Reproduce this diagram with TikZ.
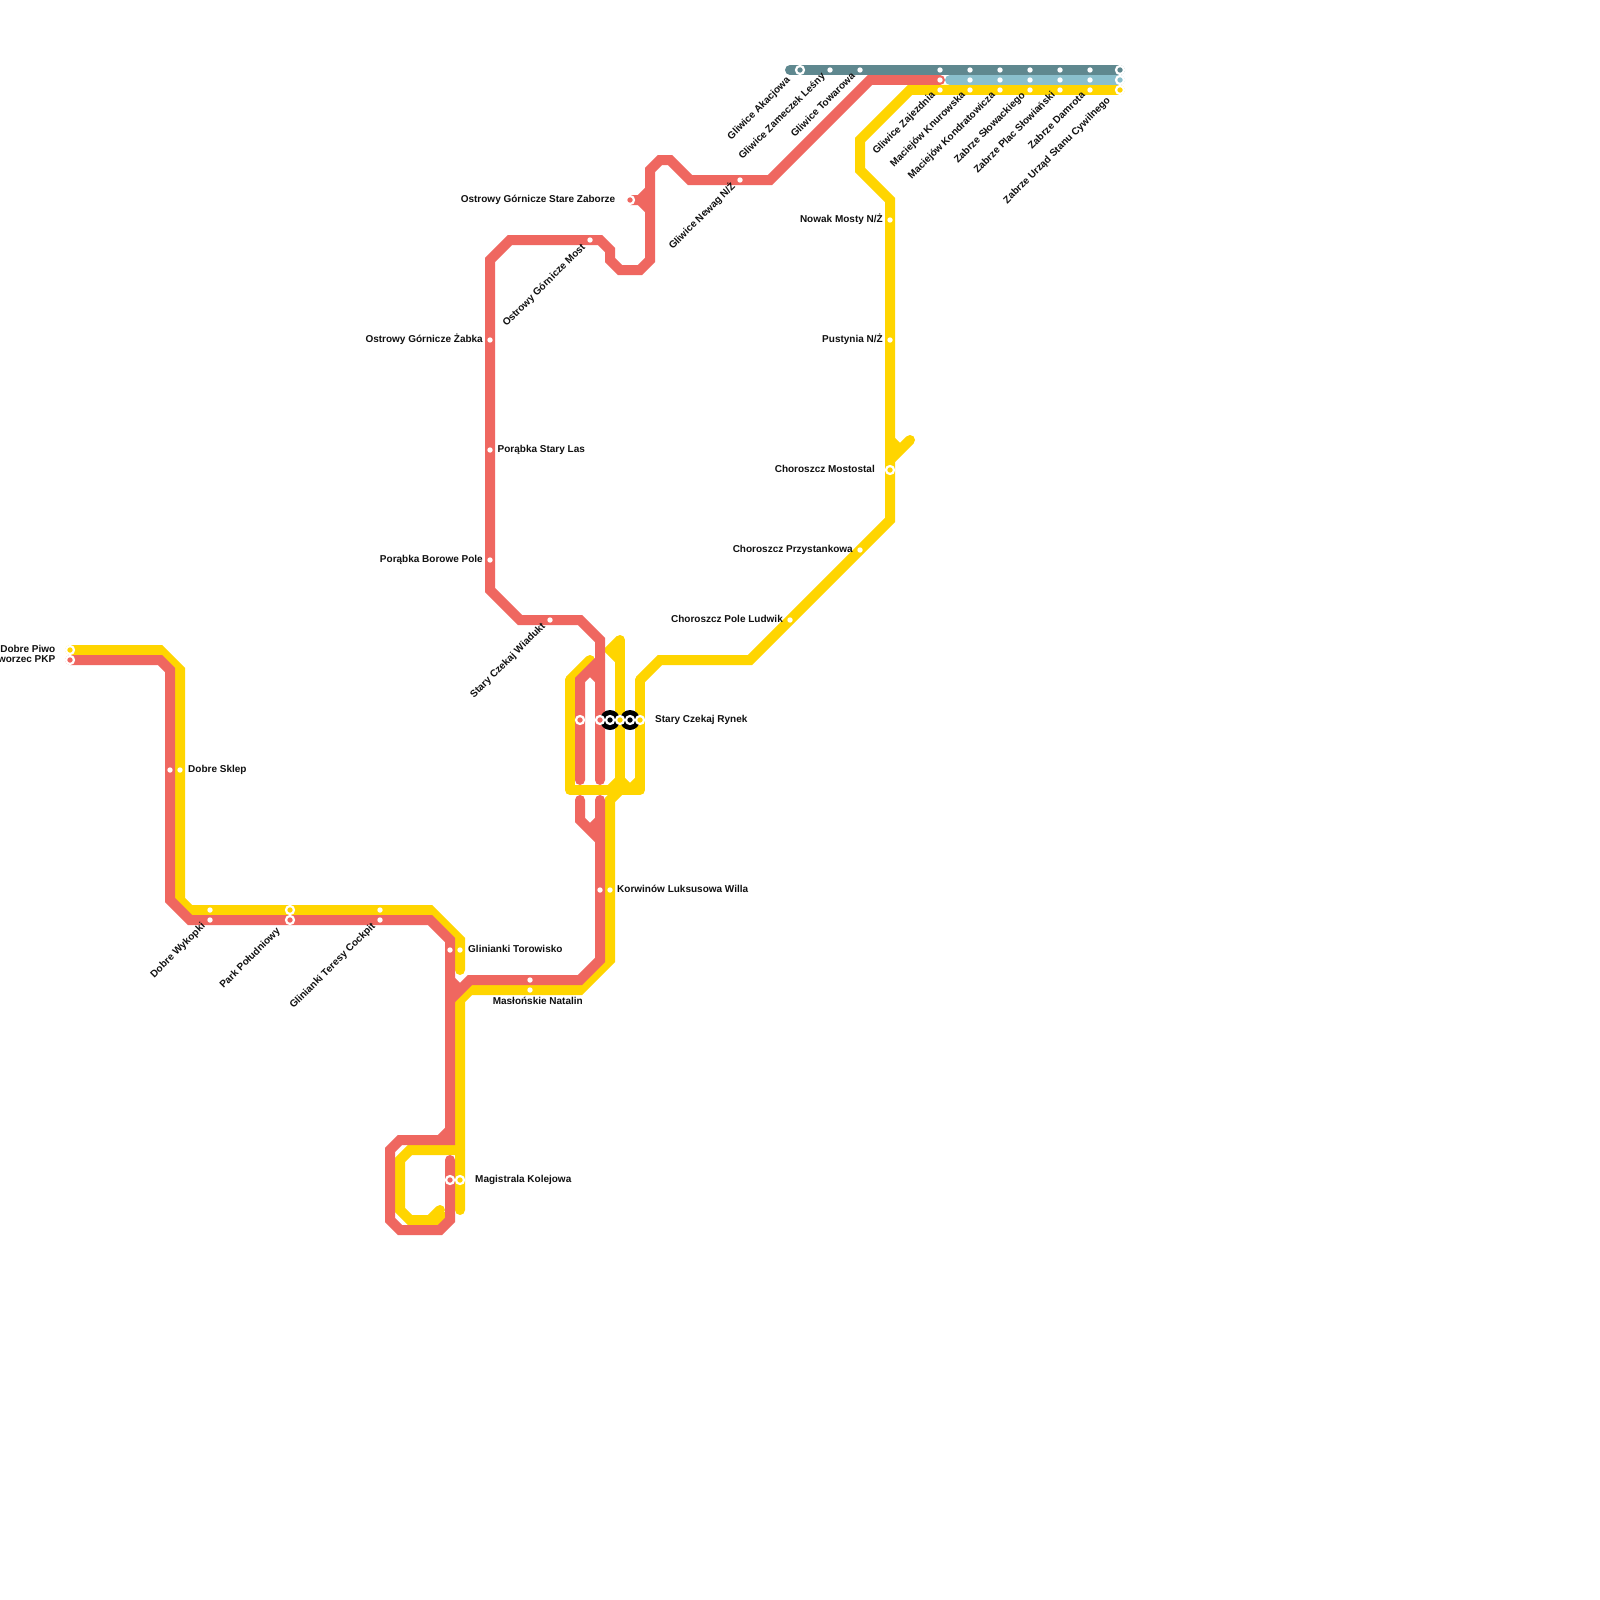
\documentclass[tikz,border=0pt]{standalone}
\usepackage{fontspec}
\setmainfont{Liberation Sans}
\usetikzlibrary{calc}
\definecolor{lred}{HTML}{EF6760}
\definecolor{lylw}{HTML}{FFD500}
\definecolor{lteal}{HTML}{5F888F}
\definecolor{lblue}{HTML}{8ABFCC}
\definecolor{ltext}{HTML}{111111}
\tikzset{
  metro/.style={line width=10pt,line cap=round,line join=miter,miter limit=10},
  redline/.style={metro,draw=lred},
  ylwline/.style={metro,draw=lylw},
  tealline/.style={metro,draw=lteal},
  blueline/.style={metro,draw=lblue},
  dotst/.style={circle,fill=white,minimum size=5.4pt,inner sep=0pt},
  ringst/.style={circle,draw=white,line width=2.2pt,fill=#1,minimum size=8pt,inner sep=0pt},
  blackdisc/.style={circle,fill=black,minimum size=20pt,inner sep=0pt},
  lbl/.style={inner sep=0pt,text=ltext,font=\fontsize{10}{12}\selectfont\bfseries,text height=5pt,text depth=0pt},
  lbll/.style={lbl,anchor=west},
  lblr/.style={lbl,anchor=east},
  lbld/.style={lbl,anchor=east,rotate=45}
}
\begin{document}
\begin{tikzpicture}[x=1pt,y=-1pt]
\fill[white] (0,0) rectangle (1600,1600);
\useasboundingbox (0,0) rectangle (1600,1600);
% station positions
\coordinate (DPy) at (70,650); \coordinate (DPr) at (70,660);
\coordinate (DSr) at (170,770); \coordinate (DSy) at (180,770);
\coordinate (WKy) at (210,910); \coordinate (WKr) at (210,920);
\coordinate (PPy) at (290,910); \coordinate (PPr) at (290,920);
\coordinate (GCy) at (380,910); \coordinate (GCr) at (380,920);
\coordinate (TOr) at (450,950); \coordinate (TOy) at (460,950);
\coordinate (MNr) at (530,980); \coordinate (MNy) at (530,990);
\coordinate (KOr) at (600,890); \coordinate (KOy) at (610,890);
\coordinate (MKr) at (450,1180); \coordinate (MKy) at (460,1180);
\coordinate (SRa) at (580,720); \coordinate (SRb) at (600,720);
\coordinate (SRc) at (610,720); \coordinate (SRd) at (620,720);
\coordinate (SRe) at (630,720); \coordinate (SRf) at (640,720);
\coordinate (WI) at (550,620); \coordinate (ZB) at (490,340);
\coordinate (LA) at (490,450); \coordinate (BO) at (490,560);
\coordinate (MO) at (590,240); \coordinate (SZ) at (630,200);
\coordinate (NE) at (740,180);
\coordinate (AK) at (800,70); \coordinate (ZL) at (830,70); \coordinate (TW) at (860,70);
\coordinate (NM) at (890,220); \coordinate (PU) at (890,340); \coordinate (MS) at (890,470);
\coordinate (PR) at (860,550); \coordinate (PL) at (790,620);
\foreach \n/\x in {a/940,b/970,c/1000,d/1030,e/1060,f/1090,g/1120}{
  \coordinate (T\n) at (\x,70); \coordinate (U\n) at (\x,80); \coordinate (V\n) at (\x,90);
}
% yellow line
\draw[ylwline] (DPy) -- (160,650) -- (180,670) -- (180,900) -- (190,910) -- (430,910) -- (460,940) -- (460,970);
\draw[ylwline] (MKy |- 0,1210) -- (460,1000) -- (470,990) -- (580,990) -- (610,960) -- (610,800) -- (620,790);
\draw[ylwline] (460,1150) -- (410,1150) -- (400,1160) -- (400,1210) -- (410,1220) -- (430,1220) -- (440,1210);
\draw[ylwline,line cap=butt] (425,1220) -- (440,1220) -- (440,1212);
\draw[ylwline] (590,660) -- (570,680);
\draw[ylwline,line join=round] (570,680) -- (570,790) -- (640,790) -- (640,680);
\draw[ylwline] (640,680) -- (660,660) -- (750,660) -- (890,520) -- (890,200) -- (860,170) -- (860,140) -- (910,90) -- (Vg);
\draw[ylwline] (620,640) -- (620,785);
\draw[ylwline,line cap=butt] (620,640) -- (610,650) -- (620,660);
\draw[ylwline,line cap=butt] (610,790) -- (620,780);
\draw[ylwline,line cap=butt] (620,780) -- (630,790);
\draw[ylwline,line cap=butt] (630,790) -- (640,780);
\draw[ylwline] (890,460) -- (910,440);
\draw[ylwline,line cap=butt] (890,440) -- (900,450);
% red line
\draw[redline] (DPr) -- (160,660) -- (170,670) -- (170,900) -- (190,920) -- (430,920) -- (450,940) -- (450,1140) -- (400,1140) -- (390,1150) -- (390,1220) -- (400,1230) -- (440,1230) -- (450,1220) -- (450,1160);
\draw[redline,line cap=butt] (450,1130) -- (440,1140);
\draw[redline,line cap=butt] (450,980) -- (460,990);
\draw[redline] (450,1000) -- (470,980) -- (580,980) -- (600,960) -- (600,800);
\draw[redline] (580,800) -- (580,820) -- (600,840);
\draw[redline,line cap=butt] (600,820) -- (590,830);
\draw[redline] (SRb |- 0,780) -- (600,640) -- (580,620) -- (520,620) -- (490,590) -- (490,260) -- (510,240) -- (600,240) -- (610,250) -- (610,260) -- (620,270) -- (640,270) -- (650,260) -- (650,170) -- (660,160) -- (670,160) -- (690,180) -- (770,180) -- (870,80) -- (Ua);
\draw[redline] (580,780) -- (580,680) -- (600,660);
\draw[redline,line cap=butt] (590,670) -- (600,680);
\draw[redline,line cap=butt] (SZ) -- (640,200) -- (650,190);
\draw[redline,line cap=butt] (640,200) -- (650,210);
% teal and blue lines
\draw[blueline] (950,80) -- (Ug);
\draw[tealline] (790,70) -- (Tg);
% black interchange discs
\node[blackdisc] (SRcd) at (SRc) {};
\node[blackdisc] (SRed) at (SRe) {};
% stations
\foreach \s in {DSr,DSy,WKy,WKr,GCy,GCr,TOr,TOy,MNr,MNy,KOr,KOy,WI,ZB,LA,BO,MO,NE,ZL,TW,NM,PU,PR,PL,Ta,Tb,Tc,Td,Te,Tf,Ua,Ub,Uc,Ud,Ue,Uf,Va,Vb,Vc,Vd,Ve,Vf}
  \node[dotst] (n\s) at (\s) {};
\foreach \s/\c in {DPy/lylw,DPr/lred,PPy/lylw,PPr/lred,MKr/lred,MKy/lylw,SRa/lred,SRb/lred,SRc/black,SRd/lylw,SRe/black,SRf/lylw,SZ/lred,AK/lteal,MS/lylw,Tg/lteal,Ug/lblue,Vg/lylw}
  \node[ringst=\c] (n\s) at (\s) {};
% horizontal labels
\node[lblr] (l1) at (55.5,650) {Dobre Piwo};
\node[lblr] (l2) at (55.5,660) {Dworzec PKP};
\node[lbll] (l3) at (188,770) {Dobre Sklep};
\node[lbll] (l4) at (468,950) {Glinianki Torowisko};
\node[lbl,anchor=east] (l5) at (583,1002) {Masłońskie Natalin};
\node[lbll] (l6) at (475,1180) {Magistrala Kolejowa};
\node[lbll] (l7) at (617,890) {Korwinów Luksusowa Willa};
\node[lbll] (l8) at (655,720) {Stary Czekaj Rynek};
\node[lblr] (l9) at (615.5,200) {Ostrowy Górnicze Stare Zaborze};
\node[lblr] (l10) at (483,340) {Ostrowy Górnicze Żabka};
\node[lbll] (l11) at (497.5,450) {Porąbka Stary Las};
\node[lblr] (l12) at (483,560) {Porąbka Borowe Pole};
\node[lblr] (l13) at (883,220) {Nowak Mosty N/Ż};
\node[lblr] (l14) at (883,340) {Pustynia N/Ż};
\node[lblr] (l15) at (875,470) {Choroszcz Mostostal};
\node[lblr] (l16) at (853,550) {Choroszcz Przystankowa};
\node[lblr] (l17) at (783,620) {Choroszcz Pole Ludwik};
% diagonal labels
\node[lbld] (d1) at ($(WKr)+(-6,5)$) {Dobre Wykopki};
\node[lbld] (d2) at ($(PPr)+(-11,10)$) {Park Południowy};
\node[lbld] (d3) at ($(GCr)+(-6,5)$) {Glinianki Teresy Cockpit};
\node[lbld] (d4) at ($(WI)+(-6,5)$) {Stary Czekaj Wiadukt};
\node[lbld] (d5) at ($(MO)+(-6,6)$) {Ostrowy Górnicze Most};
\node[lbld] (d6) at ($(NE)+(-6,5)$) {Gliwice Newag N/Ż};
\node[lbld] (d7) at ($(AK)+(-11,9)$) {Gliwice Akacjowa};
\node[lbld] (d8) at ($(ZL)+(-6,5)$) {Gliwice Zameczek Leśny};
\node[lbld] (d9) at ($(TW)+(-6,5)$) {Gliwice Towarowa};
\node[lbld] (d10) at ($(Va)+(-6,4)$) {Gliwice Zajezdnia};
\node[lbld] (d11) at ($(Vb)+(-6,4)$) {Maciejów Knurowska};
\node[lbld] (d12) at ($(Vc)+(-6,4)$) {Maciejów Kondratowicza};
\node[lbld] (d13) at ($(Vd)+(-6,4)$) {Zabrze Słowackiego};
\node[lbld] (d14) at ($(Ve)+(-6,4)$) {Zabrze Plac Słowiański};
\node[lbld] (d15) at ($(Vf)+(-6,4)$) {Zabrze Damrota};
\node[lbld] (d16) at ($(Vg)+(-11,9)$) {Zabrze Urząd Stanu Cywilnego};
\end{tikzpicture}
\end{document}
